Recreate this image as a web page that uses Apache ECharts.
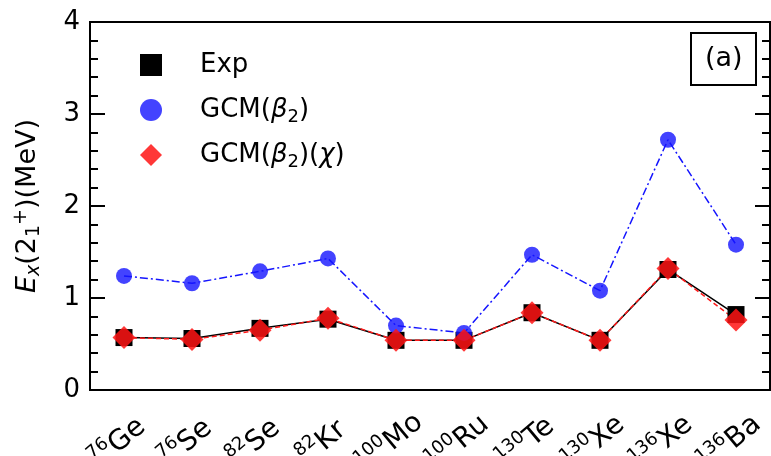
<!DOCTYPE html>
<html><head><meta charset="utf-8">
<script src="https://cdn.jsdelivr.net/npm/echarts@6/dist/echarts.min.js"></script>
<style>html,body{margin:0;padding:0;background:#fff}#c{width:771px;height:456px}</style>
</head><body><div id="c"></div>
<script>
const massNumbers = ['76','76','82','82','100','100','130','130','136','136'];
const elements = ['Ge','Se','Se','Kr','Mo','Ru','Te','Xe','Xe','Ba'];
const categories = massNumbers.map((m,i)=>m+elements[i]);
const expValues = [0.57,0.56,0.67,0.77,0.54,0.54,0.84,0.54,1.31,0.82];
const gcmValues = [1.24,1.16,1.29,1.43,0.70,0.62,1.47,1.08,2.72,1.58];
const gcmChiValues = [0.57,0.55,0.65,0.78,0.54,0.54,0.84,0.54,1.32,0.76];
const yTicks = [0,1,2,3,4];

const FF = 'DejaVu Sans';
const chart = echarts.init(document.getElementById('c'));
const legendNames = {
  'Exp': '{sp| }{n|Exp}',
  'GCM(β2)': '{sp| }{n|GCM(}{i|β}{sub|2}{n|)}',
  'GCM(β2)(χ)': '{sp| }{n|GCM(}{i|β}{sub|2}{n|)(}{i|χ}{n|)}'
};
chart.setOption({
  animation: false,
  grid: {left: 90, right: 1, top: 22, bottom: 66, show: true, borderColor: '#000', borderWidth: 2,
    containLabel: false, outerBoundsMode: 'none'},
  title: {text: '(a)', left: 691, top: 33, padding: [10, 14], borderColor: '#000', borderWidth: 2,
    textStyle: {fontFamily: FF, fontSize: 27, fontWeight: 'normal', color: '#000', lineHeight: 32}},
  legend: {
    orient: 'vertical', left: 135, top: 44, itemGap: 13, itemWidth: 22, itemHeight: 22,
    data: [{name:'Exp', icon:'rect'}, {name:'GCM(β2)', icon:'circle'}, {name:'GCM(β2)(χ)', icon:'diamond'}],
    formatter: n => legendNames[n],
    textStyle: {fontFamily: FF, fontSize: 26, color: '#000', lineHeight: 32,
      rich: {
        sp: {width: 33, fontSize: 10},
        n: {fontFamily: FF, fontSize: 26, color: '#000', lineHeight: 32},
        i: {fontFamily: FF, fontSize: 26, fontStyle: 'italic', color: '#000', lineHeight: 32},
        sub: {fontFamily: FF, fontSize: 18, color: '#000', verticalAlign: 'bottom', lineHeight: 18}
      }}
  },
  xAxis: {
    type: 'category', data: categories, boundaryGap: true,
    axisLine: {lineStyle: {color: '#000', width: 2}},
    axisTick: {show: false},
    axisLabel: {
      rotate: 40, align: 'center', margin: 46, interval: 0,
      formatter: (v, i) => '{sup|' + massNumbers[i] + '}{el|' + elements[i] + '}{sp| }',
      rich: {
        sup: {fontFamily: FF, fontSize: 18, color: '#000', verticalAlign: 'top', lineHeight: 16},
        el: {fontFamily: FF, fontSize: 28, color: '#000', verticalAlign: 'bottom', lineHeight: 32},
        sp: {width: 18, fontSize: 10}
      }
    }
  },
  yAxis: [{
    type: 'value', min: yTicks[0], max: yTicks[yTicks.length-1], interval: 1,
    axisLine: {show: true, lineStyle: {color: '#000', width: 2}},
    axisTick: {show: true, inside: true, length: 15, lineStyle: {color: '#000', width: 2}},
    minorTick: {show: true, splitNumber: 5, length: 8, lineStyle: {color: '#000', width: 2}},
    splitLine: {show: false},
    axisLabel: {fontFamily: FF, fontSize: 26, color: '#000', margin: 10},
    name: '{i|E}{isub|x}{n|(2}{sub|1}{sup|+}{n|)(MeV)}',
    nameLocation: 'middle', nameGap: 46, nameRotate: 90,
    nameTextStyle: {fontFamily: FF, fontSize: 27, color: '#000', lineHeight: 32,
      rich: {
        i: {fontFamily: FF, fontSize: 27, fontStyle: 'italic', color: '#000', lineHeight: 32},
        isub: {fontFamily: FF, fontSize: 19, fontStyle: 'italic', color: '#000', verticalAlign: 'bottom', lineHeight: 18},
        n: {fontFamily: FF, fontSize: 27, color: '#000', lineHeight: 32},
        sub: {fontFamily: FF, fontSize: 19, color: '#000', verticalAlign: 'bottom', lineHeight: 18},
        sup: {fontFamily: FF, fontSize: 19, color: '#000', verticalAlign: 'top', lineHeight: 18}
      }}
  }, {
    type: 'value', position: 'right', min: yTicks[0], max: yTicks[yTicks.length-1], interval: 1,
    axisLine: {show: true, lineStyle: {color: '#000', width: 2}},
    axisTick: {show: true, inside: true, length: 15, lineStyle: {color: '#000', width: 2}},
    minorTick: {show: true, splitNumber: 5, length: 8, lineStyle: {color: '#000', width: 2}},
    splitLine: {show: false}, axisLabel: {show: false}
  }],
  series: [
    {name: 'Exp', type: 'line', data: expValues, symbol: 'rect', symbolSize: 17,
      itemStyle: {color: '#000'}, lineStyle: {color: '#000', width: 1.5}},
    {name: 'GCM(β2)', type: 'line', data: gcmValues, symbol: 'circle', symbolSize: 16,
      itemStyle: {color: 'rgba(20,20,255,0.8)'}, lineStyle: {color: '#1515ff', width: 1.5, type: [8,3,2,3]}},
    {name: 'GCM(β2)(χ)', type: 'line', data: gcmChiValues, symbol: 'diamond', symbolSize: 23,
      itemStyle: {color: 'rgba(255,20,20,0.85)'}, lineStyle: {color: '#ff1a1a', width: 1.5, type: [5,3]}}
  ]
});
</script></body></html>
